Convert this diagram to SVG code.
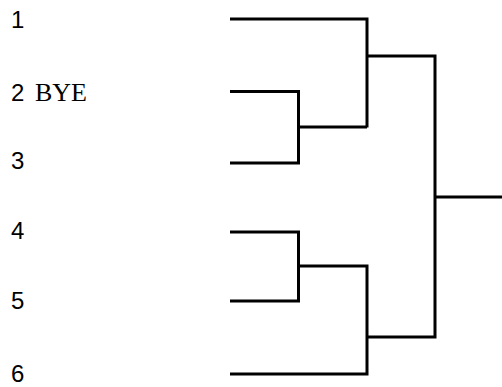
<svg xmlns="http://www.w3.org/2000/svg" width="502" height="387" viewBox="0 0 502 387">
<style>
.num{font-family:"Liberation Sans",Arial,sans-serif;font-size:24px;fill:#000}
.bye{font-family:"Liberation Serif","Times New Roman",serif;font-size:26px;fill:#000}
.ln{fill:none;stroke:#000;stroke-width:3;stroke-linejoin:miter;stroke-linecap:butt}
</style>
<rect width="502" height="387" fill="#fff"/>
<g id="seed1"><text class="num" x="11" y="28">1</text></g>
<g id="seed2"><text class="num" x="11" y="101">2</text><text class="bye" x="35" y="101">BYE</text></g>
<g id="seed3"><text class="num" x="11" y="169">3</text></g>
<g id="seed4"><text class="num" x="11" y="239">4</text></g>
<g id="seed5"><text class="num" x="11" y="309">5</text></g>
<g id="seed6"><text class="num" x="11" y="382">6</text></g>
<g id="connectors">
<polyline class="ln" points="230,19 367,19 367,127.5"/>
<polyline class="ln" points="230,91.5 298.5,91.5 298.5,163 230,163"/>
<line class="ln" x1="298.5" y1="127" x2="367" y2="127"/>
<polyline class="ln" points="367,56 435,56 435,337 367,337"/>
<line class="ln" x1="435" y1="197" x2="502" y2="197"/>
<polyline class="ln" points="230,232 298.5,232 298.5,301 230,301"/>
<polyline class="ln" points="298.5,266 367,266 367,374 230,374"/>
</g>
</svg>
